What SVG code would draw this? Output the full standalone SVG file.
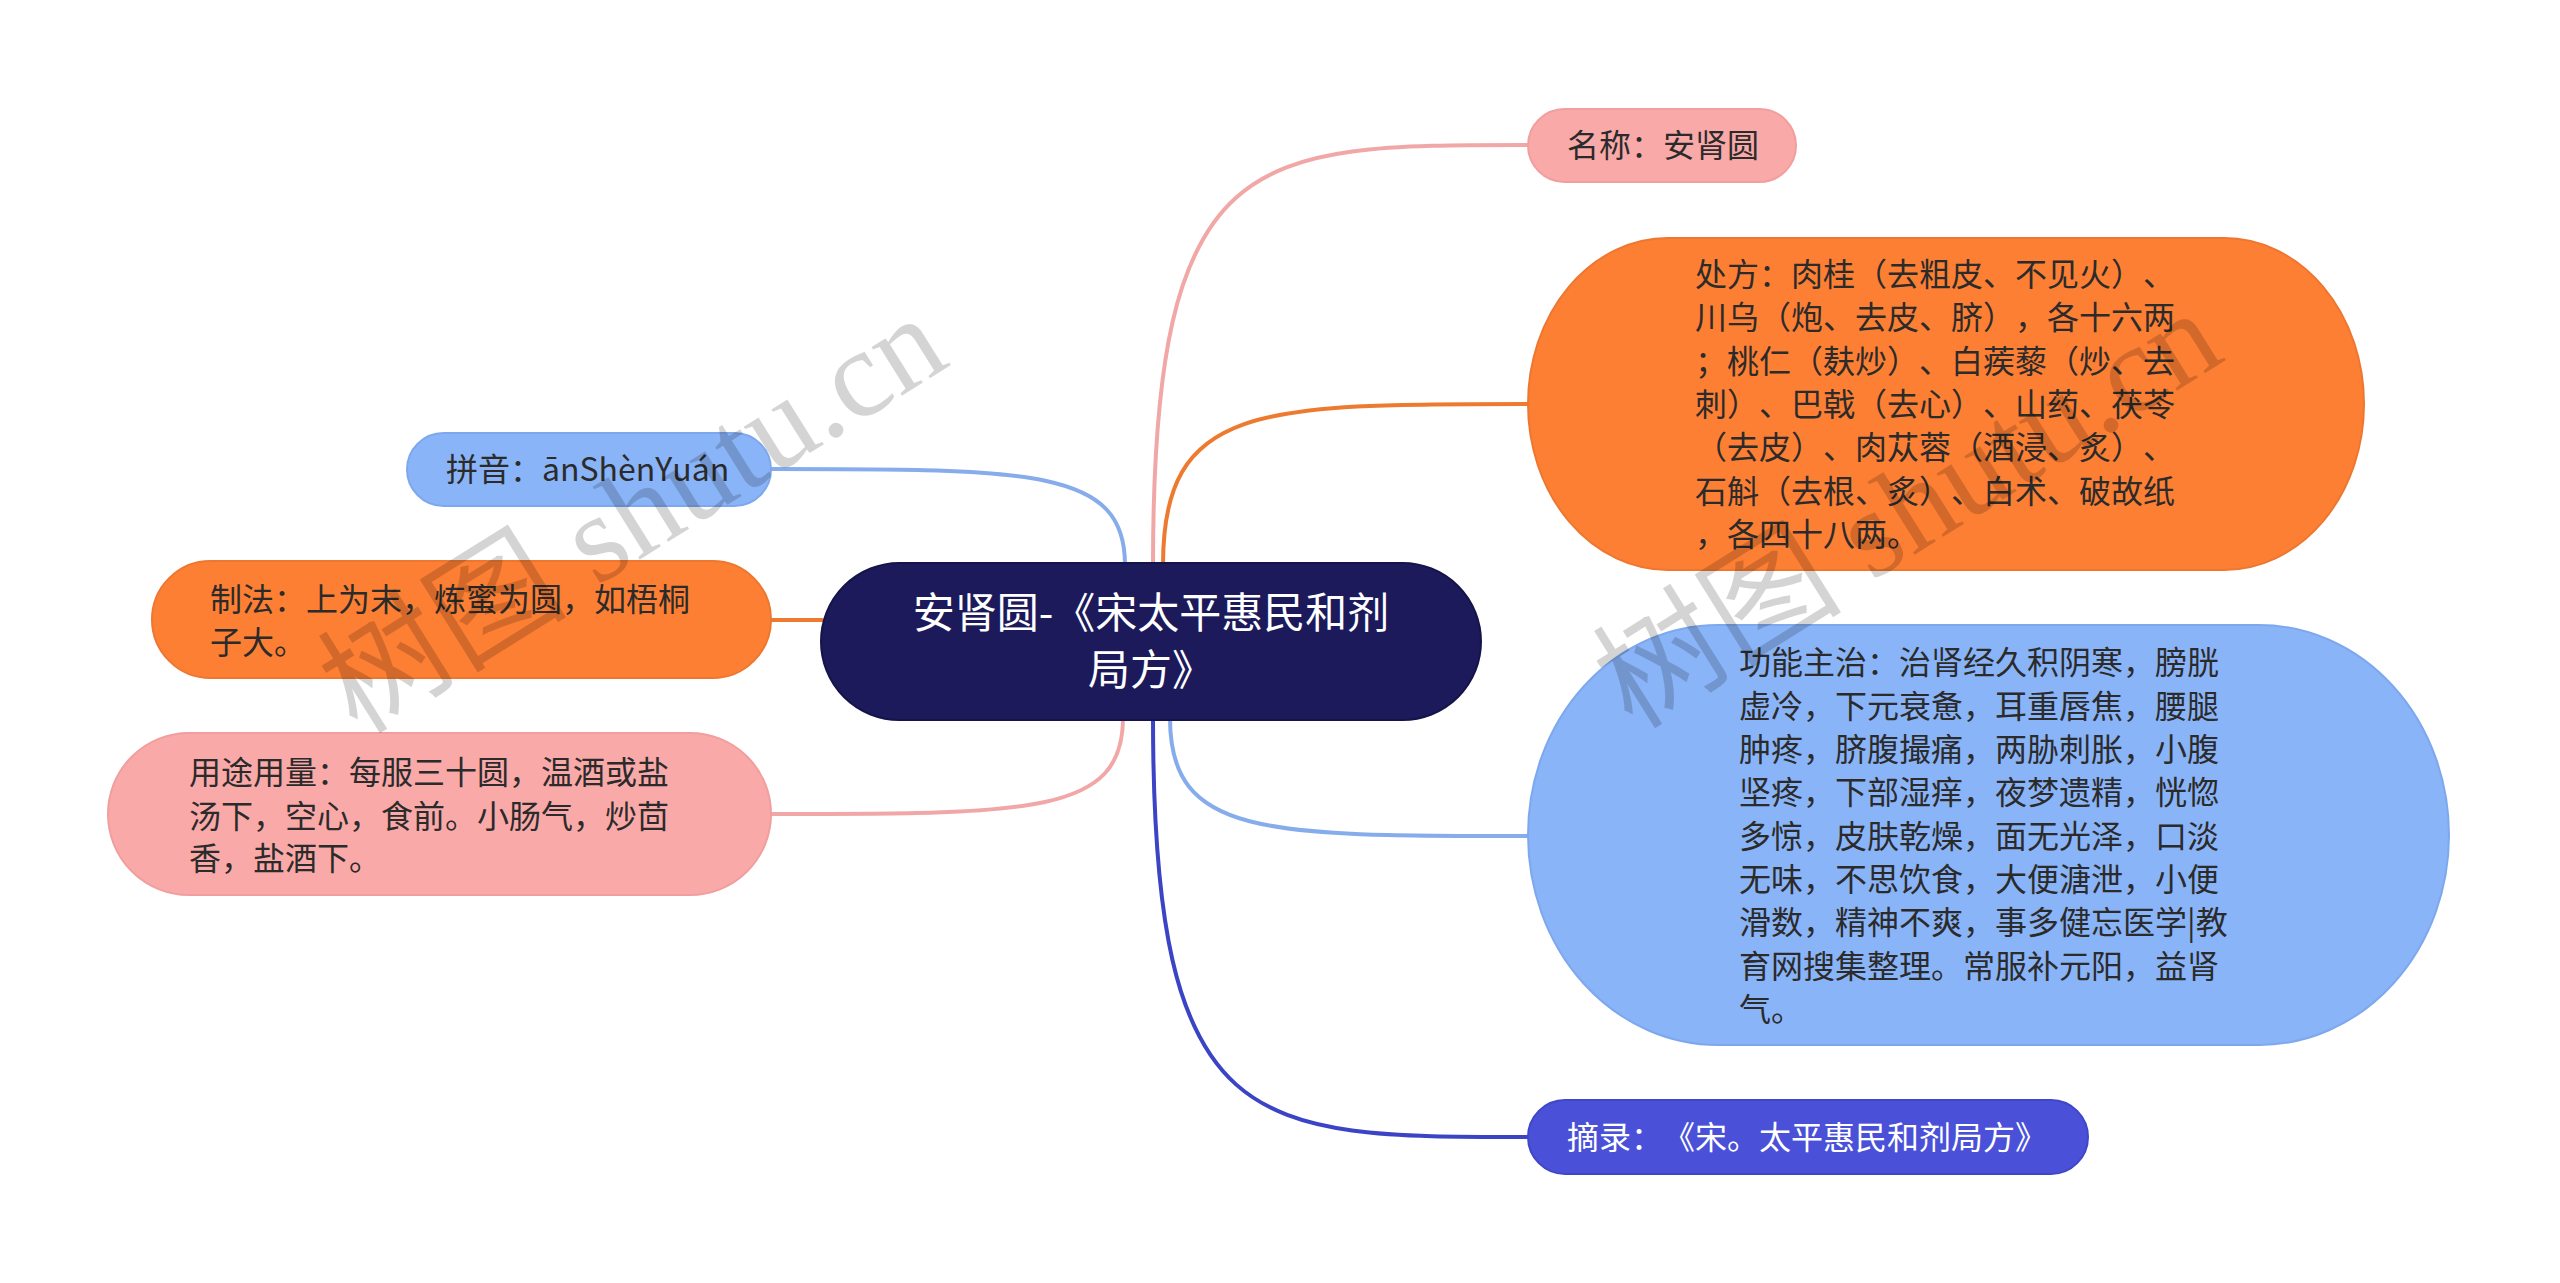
<svg xmlns="http://www.w3.org/2000/svg" width="2560" height="1283" viewBox="0 0 2560 1283">
<style>
text{text-spacing-trim:space-all;font-kerning:none;font-feature-settings:"chws" 0,"halt" 0,"palt" 0,"kern" 0}
.t{font-family:"Noto Sans CJK SC","Noto Sans",sans-serif;font-size:32px;fill:#2b2b2b}
.w{fill:#ffffff}
.c{font-family:"Noto Sans CJK SC","Noto Sans",sans-serif;font-size:42px;fill:#ffffff;text-anchor:middle}
.ln{fill:none;stroke-width:4;stroke-linecap:round}
.pk{fill:#FAA9A9;stroke:#F19E9E;stroke-width:2}
.or{fill:#FD7F33;stroke:#EE7730;stroke-width:2}
.lb{fill:#8AB4F8;stroke:#7EA8EE;stroke-width:2}
.wm{font-family:"Liberation Serif","Noto Sans CJK SC",serif;font-size:125px;fill:#000;fill-opacity:0.17;text-anchor:middle}
</style>
<rect width="2560" height="1283" fill="#ffffff"/>
<g id="connectors">
<path class="ln" stroke="#F2A7A7" stroke-width="3" d="M1153 565 C1153 145 1250 145 1528 145"/>
<path class="ln" stroke="#EE7A30" d="M1163 565 C1163 404 1258 404 1528 404"/>
<path class="ln" stroke="#86ACEC" d="M1170 718 C1170 836 1263 836 1528 836"/>
<path class="ln" stroke="#3B44C4" d="M1153 718 C1153 1137 1250 1137 1528 1137"/>
<path class="ln" stroke="#86ACEC" d="M1125 565 C1125 469 1033 469 771 469"/>
<path class="ln" stroke="#EE7A30" d="M822 620 L771 620"/>
<path class="ln" stroke="#F2A7A7" stroke-width="3" d="M1123 718 C1123 814 1032 814 771 814"/>
</g>
<g id="center">
<rect x="821" y="563" width="660" height="157" rx="78.5" fill="#1C1A5B" stroke="#15144a" stroke-width="2"/>
<text class="c" x="1151" y="628">安肾圆-《宋太平惠民和剂</text>
<text class="c" x="1151" y="685">局方》</text>
</g>
<g id="node-mingcheng">
<rect class="pk" x="1528" y="109" width="268" height="73" rx="36.5"/>
<text class="t" x="1567" y="157">名称：安肾圆</text>
</g>
<g id="node-chufang">
<rect class="or" x="1528" y="238" width="836" height="332" rx="140" ry="166"/>
<text class="t" x="1695" y="286">处方：肉桂（去粗皮、不见火）、</text>
<text class="t" x="1695" y="329">川乌（炮、去皮、脐），各十六两</text>
<text class="t" x="1695" y="373">；桃仁（麸炒）、白蒺藜（炒、去</text>
<text class="t" x="1695" y="416">刺）、巴戟（去心）、山药、茯苓</text>
<text class="t" x="1695" y="459">（去皮）、肉苁蓉（酒浸、炙）、</text>
<text class="t" x="1695" y="503">石斛（去根、炙）、白术、破故纸</text>
<text class="t" x="1695" y="546">，各四十八两。</text>
</g>
<g id="node-gongneng">
<rect class="lb" x="1528" y="625" width="921" height="420" rx="190" ry="210"/>
<text class="t" x="1739" y="674">功能主治：治肾经久积阴寒，膀胱</text>
<text class="t" x="1739" y="718">虚冷，下元衰惫，耳重唇焦，腰腿</text>
<text class="t" x="1739" y="761">肿疼，脐腹撮痛，两胁刺胀，小腹</text>
<text class="t" x="1739" y="804">坚疼，下部湿痒，夜梦遗精，恍惚</text>
<text class="t" x="1739" y="848">多惊，皮肤乾燥，面无光泽，口淡</text>
<text class="t" x="1739" y="891">无味，不思饮食，大便溏泄，小便</text>
<text class="t" x="1739" y="934">滑数，精神不爽，事多健忘医学|教</text>
<text class="t" x="1739" y="978">育网搜集整理。常服补元阳，益肾</text>
<text class="t" x="1739" y="1021">气。</text>
</g>
<g id="node-zhailu">
<rect x="1528" y="1100" width="560" height="74" rx="37" fill="#4A51D8" stroke="#3F47C8" stroke-width="2"/>
<text class="t w" x="1567" y="1149">摘录：《宋。太平惠民和剂局方》</text>
</g>
<g id="node-pinyin">
<rect class="lb" x="407" y="433" width="364" height="73" rx="36.5"/>
<text class="t" x="446" y="481">拼音：ānShènYuán</text>
</g>
<g id="node-zhifa">
<rect class="or" x="152" y="561" width="619" height="117" rx="58.5"/>
<text class="t" x="210" y="611">制法：上为末，炼蜜为圆，如梧桐</text>
<text class="t" x="210" y="654">子大。</text>
</g>
<g id="node-yongtu">
<rect class="pk" x="108" y="733" width="663" height="162" rx="81"/>
<text class="t" x="189" y="784">用途用量：每服三十圆，温酒或盐</text>
<text class="t" x="189" y="828">汤下，空心，食前。小肠气，炒茴</text>
<text class="t" x="189" y="870">香，盐酒下。</text>
</g>
<g id="watermarks">
<text class="wm" transform="translate(655 550) rotate(-32)">树图 shutu.cn</text>
<text class="wm" transform="translate(1930 545) rotate(-32)">树图 shutu.cn</text>
</g>
</svg>
